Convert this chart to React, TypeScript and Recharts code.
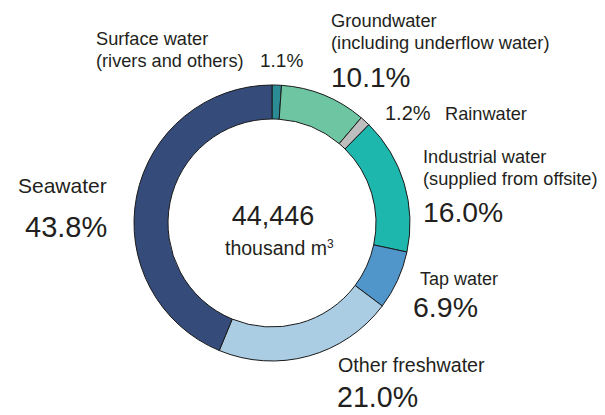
import { PieChart, Pie, Cell } from 'recharts'

const categories = ['Surface water', 'Groundwater', 'Rainwater', 'Industrial water', 'Tap water', 'Other freshwater', 'Seawater']
const subtitles = ['(rivers and others)', '(including underflow water)', '', '(supplied from offsite)', '', '', '']
const shares = [1.1, 10.1, 1.2, 16.0, 6.9, 21.0, 43.8]
const totalVolume = 44446 // thousand m3

const colors = ['#2C8C95', '#6DC6A1', '#BEBEBE', '#1EB7AE', '#5196CB', '#AACDE4', '#354C7B']

// hand placed label spots, [name x, name y, name size, pct x, pct y, pct size]
const labelPos: number[][] = [
  [96, 45, 18.2, 260, 67, 19],
  [331, 27, 18.3, 331, 87, 28],
  [445, 120, 18.2, 385, 120, 20],
  [423, 163, 18.2, 423, 222, 28.3],
  [420, 285, 18, 413, 317, 28.5],
  [338, 372, 19.7, 337, 407, 28.6],
  [18, 193, 21, 25, 237, 29],
]

const data = categories.map((c, i) => ({ name: c, sub: subtitles[i], value: shares[i] }))

const FONT = '"Liberation Sans", Arial, sans-serif'
const INK = '#231F20'

function renderLabel(props: any) {
  const i = props.index
  const [nx, ny, ns, px, py, ps] = labelPos[i]
  const d = data[i]
  return (
    <g key={'lbl' + i} fontFamily={FONT} fill={INK}>
      <text x={nx} y={ny} fontSize={ns} fill={INK}>{d.name}</text>
      {d.sub && <text x={nx} y={ny + 22} fontSize={ns} fill={INK}>{d.sub}</text>}
      <text x={px} y={py} fontSize={ps} fill={INK}>{d.value.toFixed(1)}%</text>
    </g>
  )
}

export default function App() {
  return (
    <div style={{ position: 'absolute', left: 0, top: 0, background: '#fff' }}>
      <PieChart width={605} height={415} margin={{ top: 0, right: 0, bottom: 0, left: 0 }}>
        <Pie
          data={data}
          dataKey="value"
          cx={272}
          cy={223}
          innerRadius={104}
          outerRadius={138}
          startAngle={90}
          endAngle={-270}
          stroke="#1a1a1a"
          strokeWidth={1}
          label={renderLabel}
          labelLine={false}
          isAnimationActive={false}
        >
          {data.map((d, i) => <Cell key={d.name} fill={colors[i]} />)}
        </Pie>
        <text x={273} y={225} textAnchor="middle" fontFamily={FONT} fontSize={27} fill={INK}>
          {totalVolume.toLocaleString('en-US')}
        </text>
        <text x={225} y={255} fontFamily={FONT} fontSize={19.5} fill={INK}>
          thousand m<tspan fontSize={12} dy={-7}>3</tspan>
        </text>
      </PieChart>
    </div>
  )
}
